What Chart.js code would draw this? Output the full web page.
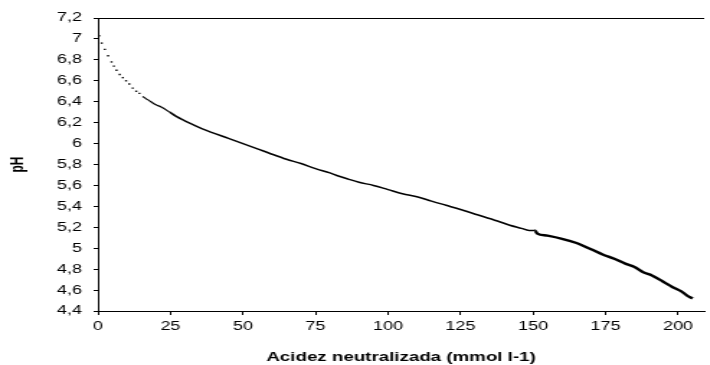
<!DOCTYPE html>
<html>
<head>
<meta charset="utf-8">
<script src="https://cdn.jsdelivr.net/npm/chart.js@4/dist/chart.umd.min.js"></script>
<style>
    html, body { margin: 0; padding: 0; background: #fff; overflow: hidden; }
    /* the original figure is stretched sideways, so draw narrow and widen it */
    #wrap { width: 493px; height: 365px; transform: scaleX(1.44); transform-origin: 0 0; }
</style>
</head>
<body>
<div id="wrap"><canvas id="phChart"></canvas></div>
<script>
// Titration curve: early readings show as separate dots, later ones merge into a line
const dotsAcidez = [0.4, 1.3, 2.4, 3.5, 4.7, 5.5, 6.4, 7.5, 8.6, 9.7, 10.8, 12, 13.2, 14.3];
const dotsPh     = [7.03, 6.96, 6.90, 6.84, 6.78, 6.74, 6.70, 6.66, 6.63, 6.60, 6.57, 6.53, 6.50, 6.48];

const lineAcidez = [15.4, 16.5, 17.7, 18.8, 20, 21.8, 24.7, 27, 29.8, 32, 36, 38.9, 45, 50, 55, 58.9, 65, 70, 75, 80, 82.9, 86.3, 90, 95,
    100, 105, 110.3, 115, 120, 125, 130.8, 137.7, 142, 146, 148.6, 150.5, 151.5, 155, 160, 165, 170, 174,
    178, 182, 185, 188, 191, 194.9, 198, 201, 203, 205];
const linePh     = [6.45, 6.43, 6.41, 6.39, 6.37, 6.35, 6.30, 6.26, 6.22, 6.19, 6.14, 6.11, 6.05, 6.00, 5.95, 5.91, 5.85, 5.81, 5.76, 5.72, 5.69, 5.66, 5.63, 5.60,
    5.56, 5.52, 5.49, 5.45, 5.41, 5.37, 5.32, 5.26, 5.22, 5.19, 5.17, 5.17, 5.14, 5.12, 5.09, 5.05, 4.99, 4.94,
    4.90, 4.85, 4.82, 4.77, 4.74, 4.68, 4.63, 4.59, 4.55, 4.52];

const xTicks = [0, 25, 50, 75, 100, 125, 150, 175, 200];

const font = "'Liberation Sans', Arial, sans-serif";

// top frame line of the plot area
const topBorder = {
    id: 'topBorder',
    afterDraw(chart) {
        const { ctx, chartArea } = chart;
        ctx.save();
        ctx.strokeStyle = '#000';
        ctx.lineWidth = 1;
        ctx.beginPath();
        ctx.moveTo(chartArea.left, chartArea.top + 0.5);
        ctx.lineTo(chartArea.right, chartArea.top + 0.5);
        ctx.stroke();
        ctx.restore();
    }
};

new Chart(document.getElementById('phChart').getContext('2d'), {
    type: 'scatter',
    data: {
        datasets: [{
            data: dotsAcidez.map((x, i) => ({ x: x, y: dotsPh[i] })),
            pointStyle: 'rect',
            pointRadius: 1,
            borderWidth: 0,
            backgroundColor: '#000'
        }, {
            data: lineAcidez.map((x, i) => ({ x: x, y: linePh[i] })),
            showLine: true,
            pointRadius: 0,
            borderColor: '#000',
            borderWidth: 1.5,
            cubicInterpolationMode: 'monotone',
            segment: {
                borderWidth: c => c.p0.parsed.x >= 150 ? 2.4 : (c.p0.parsed.x < 22 ? 1.2 : 1.5)
            }
        }]
    },
    options: {
        responsive: true,
        maintainAspectRatio: false,
        animation: false,
        layout: { padding: { top: 18, right: 0, left: 0, bottom: 0 } },
        plugins: {
            legend: { display: false },
            tooltip: { enabled: false }
        },
        scales: {
            x: {
                type: 'linear',
                min: 0,
                max: 209,
                afterBuildTicks: s => { s.ticks = xTicks.map(v => ({ value: v })); },
                afterFit: s => { s.height = 54; },
                grid: { display: true, drawOnChartArea: false, tickLength: 4, color: '#000' },
                border: { color: '#000', width: 1 },
                ticks: { color: '#000', font: { family: font, size: 12.5 }, padding: 4, maxRotation: 0 },
                title: {
                    display: true,
                    text: 'Acidez neutralizada (mmol l-1)',
                    color: '#000',
                    font: { family: font, size: 13, weight: 'bold' },
                    padding: { top: 0, bottom: 0 }
                }
            },
            y: {
                min: 4.4,
                max: 7.2,
                afterFit: s => { s.width = 68; },
                grid: { display: true, drawOnChartArea: false, tickLength: 3, color: '#000' },
                border: { color: '#000', width: 1 },
                ticks: {
                    stepSize: 0.2,
                    color: '#000',
                    font: { family: font, size: 12.5 },
                    padding: 8,
                    callback: v => String(Number(v.toFixed(1))).replace('.', ',')
                },
                title: {
                    display: true,
                    text: 'pH',
                    color: '#000',
                    font: { family: font, size: 12, weight: 'bold' },
                    padding: { top: 5, bottom: 0 }
                }
            }
        }
    },
    plugins: [topBorder]
});
</script>
</body>
</html>
